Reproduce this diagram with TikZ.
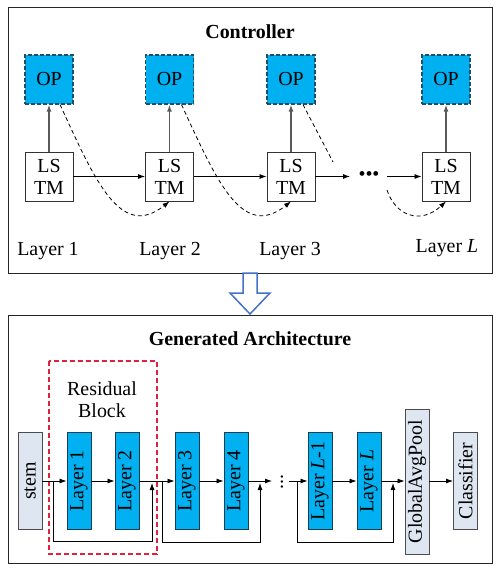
\documentclass[tikz,border=0pt]{standalone}
\usepackage{fontspec}
\setmainfont{Liberation Serif}
\usepackage{graphicx}
\usetikzlibrary{arrows.meta,calc}
\definecolor{opblue}{RGB}{0,176,240}
\definecolor{opedge}{RGB}{31,78,105}
\definecolor{stemfill}{RGB}{222,230,242}
\definecolor{bigarrow}{RGB}{68,114,196}
\definecolor{resred}{RGB}{228,30,60}
\tikzset{
  txt/.style={font=\fontsize{20}{22}\selectfont},
  ttl/.style={font=\fontsize{20}{22}\selectfont\bfseries},
  frame/.style={draw=black!85, line width=0.9bp},
  opbox/.style={txt, draw=opedge, fill=opblue, dashed, dash pattern=on 4bp off 2bp, line width=1.2bp, minimum width=48bp, minimum height=49bp, inner sep=0pt},
  lstmbox/.style={txt, draw=black!80, fill=white, line width=0.9bp, minimum width=48bp, minimum height=49bp, inner sep=0pt, align=center},
  layerbox/.style={txt, draw=opedge!80!black, fill=opblue, line width=0.9bp, minimum width=24bp, minimum height=97bp, inner sep=0pt},
  lightbox/.style={txt, draw=black!70, fill=stemfill, line width=0.9bp, minimum width=24bp, minimum height=97bp, inner sep=0pt},
  arr/.style={-{Latex[length=7bp,width=5bp]}, line width=0.8bp, black},
  uparr/.style={-{Latex[length=7bp,width=5bp]}, line width=1.3bp, black!65},
  dasharr/.style={-{Latex[length=7bp,width=5bp]}, line width=0.8bp, dashed, dash pattern=on 4bp off 3bp},
  dashln/.style={line width=0.8bp, dashed, dash pattern=on 4bp off 3bp},
  resbox/.style={draw=resred, line width=1.3bp, dashed, dash pattern=on 5bp off 3bp},
}
\begin{document}
\begin{tikzpicture}[x=1bp,y=-1bp]
\useasboundingbox (0,0) rectangle (498,572);
% frames
\draw[frame] (8,7) rectangle (492,273);
\draw[frame] (8,315) rectangle (492,563);
% big arrow
\draw[bigarrow, line width=1.5bp, fill=white, line join=miter] (243,273) -- (257,273) -- (257,293) -- (270,293) -- (250,314) -- (230,293) -- (243,293) -- cycle;
% titles
\node[ttl] (tctrl) at (250,32) {Controller};
\node[ttl] (tgen) at (250,339) {Generated Architecture};
% controller
\node[opbox] (op1) at (49,79.5) {OP};
\node[opbox] (op2) at (169.5,79.5) {OP};
\node[opbox] (op3) at (291,79.5) {OP};
\node[opbox] (op4) at (446,79.5) {OP};
\node[lstmbox] (ls1) at (49,176.5) {LS\\TM};
\node[lstmbox] (ls2) at (169.5,176.5) {LS\\TM};
\node[lstmbox] (ls3) at (291,176.5) {LS\\TM};
\node[lstmbox] (ls4) at (446,176.5) {LS\\TM};
\foreach \i in {1,2,3,4} { \draw[uparr] (ls\i.north) -- (op\i.south); }
\draw[arr] (ls1.east) -- (ls2.west);
\draw[arr] (ls2.east) -- (ls3.west);
\coordinate (h3) at (350,176.5);
\coordinate (h4) at (387,176.5);
\node[txt] (dots) at (369,176) {•••};
\draw[arr] (ls3.east) -- (h3);
\draw[arr] (h4) -- (ls4.west);
\draw[dasharr] ($(op1.south)+(11,0)$) .. controls +(35,76) and +(-49,39) .. (ls2.south);
\draw[dasharr] ($(op2.south)+(12,0)$) .. controls +(35,76) and +(-49,39) .. (ls3.south);
\coordinate (d3) at (333,162);
\draw[dashln] ($(op3.south)+(12,0)$) -- (d3);
\coordinate (d4) at (387,190);
\draw[dasharr] (d4) .. controls +(8,25) and +(-26,24) .. (ls4.south);
\node[txt] (lab1) at (48,251) {Layer 1};
\node[txt] (lab2) at (170,251) {Layer 2};
\node[txt] (lab3) at (290,251) {Layer 3};
\node[txt] (lab4) at (447,248) {Layer \textit{L}};
% generated architecture
\draw[resbox] (49,361) rectangle (157,554);
\node[txt, align=center] (res) at (102,399.5) {Residual\\Block};
\node[lightbox] (stem) at (30,481) {\rotatebox{90}{stem}};
\node[layerbox] (l1) at (79,481) {\rotatebox{90}{Layer 1}};
\node[layerbox] (l2) at (127,481) {\rotatebox{90}{Layer 2}};
\node[layerbox] (l3) at (187,481) {\rotatebox{90}{Layer 3}};
\node[layerbox] (l4) at (236,481) {\rotatebox{90}{Layer 4}};
\node[layerbox] (ll1) at (320,481) {\rotatebox{90}{Layer \textit{L}-1}};
\node[layerbox] (ll) at (369,481) {\rotatebox{90}{Layer \textit{L}}};
\node[lightbox, minimum height=145bp] (gap) at (417,481.5) {\rotatebox{90}{GlobalAvgPool}};
\node[lightbox] (clf) at (465.5,481) {\rotatebox{90}{Classifier}};
\draw[arr] (stem.east) -- (l1.west);
\draw[arr] (l1.east) -- (l2.west);
\draw[arr] (l2.east) -- (l3.west);
\draw[arr] (l3.east) -- (l4.west);
\coordinate (m1) at (272,481);
\coordinate (m2) at (289,481);
\node[txt, rotate=90] (vdots) at (282,482) {...};
\draw[arr] (l4.east) -- (m1);
\draw[arr] (m2) -- (ll1.west);
\draw[arr] (ll1.east) -- (ll.west);
\draw[arr] (ll.east) -- (gap.west |- ll.east);
\draw[arr] (gap.east |- clf.west) -- (clf.west);
% skip connections
\coordinate (s1a) at (53,481);
\coordinate (s1b) at (152,483);
\coordinate (s2a) at (162,481);
\coordinate (s2b) at (260,483);
\coordinate (s3a) at (297,481);
\coordinate (s3b) at (393,483);
\draw[arr] (s1a) -- ++(0,60) -| (s1b);
\draw[arr] (s2a) -- ++(0,61) -| (s2b);
\draw[arr] (s3a) -- ++(0,61) -| (s3b);
\end{tikzpicture}
\end{document}
